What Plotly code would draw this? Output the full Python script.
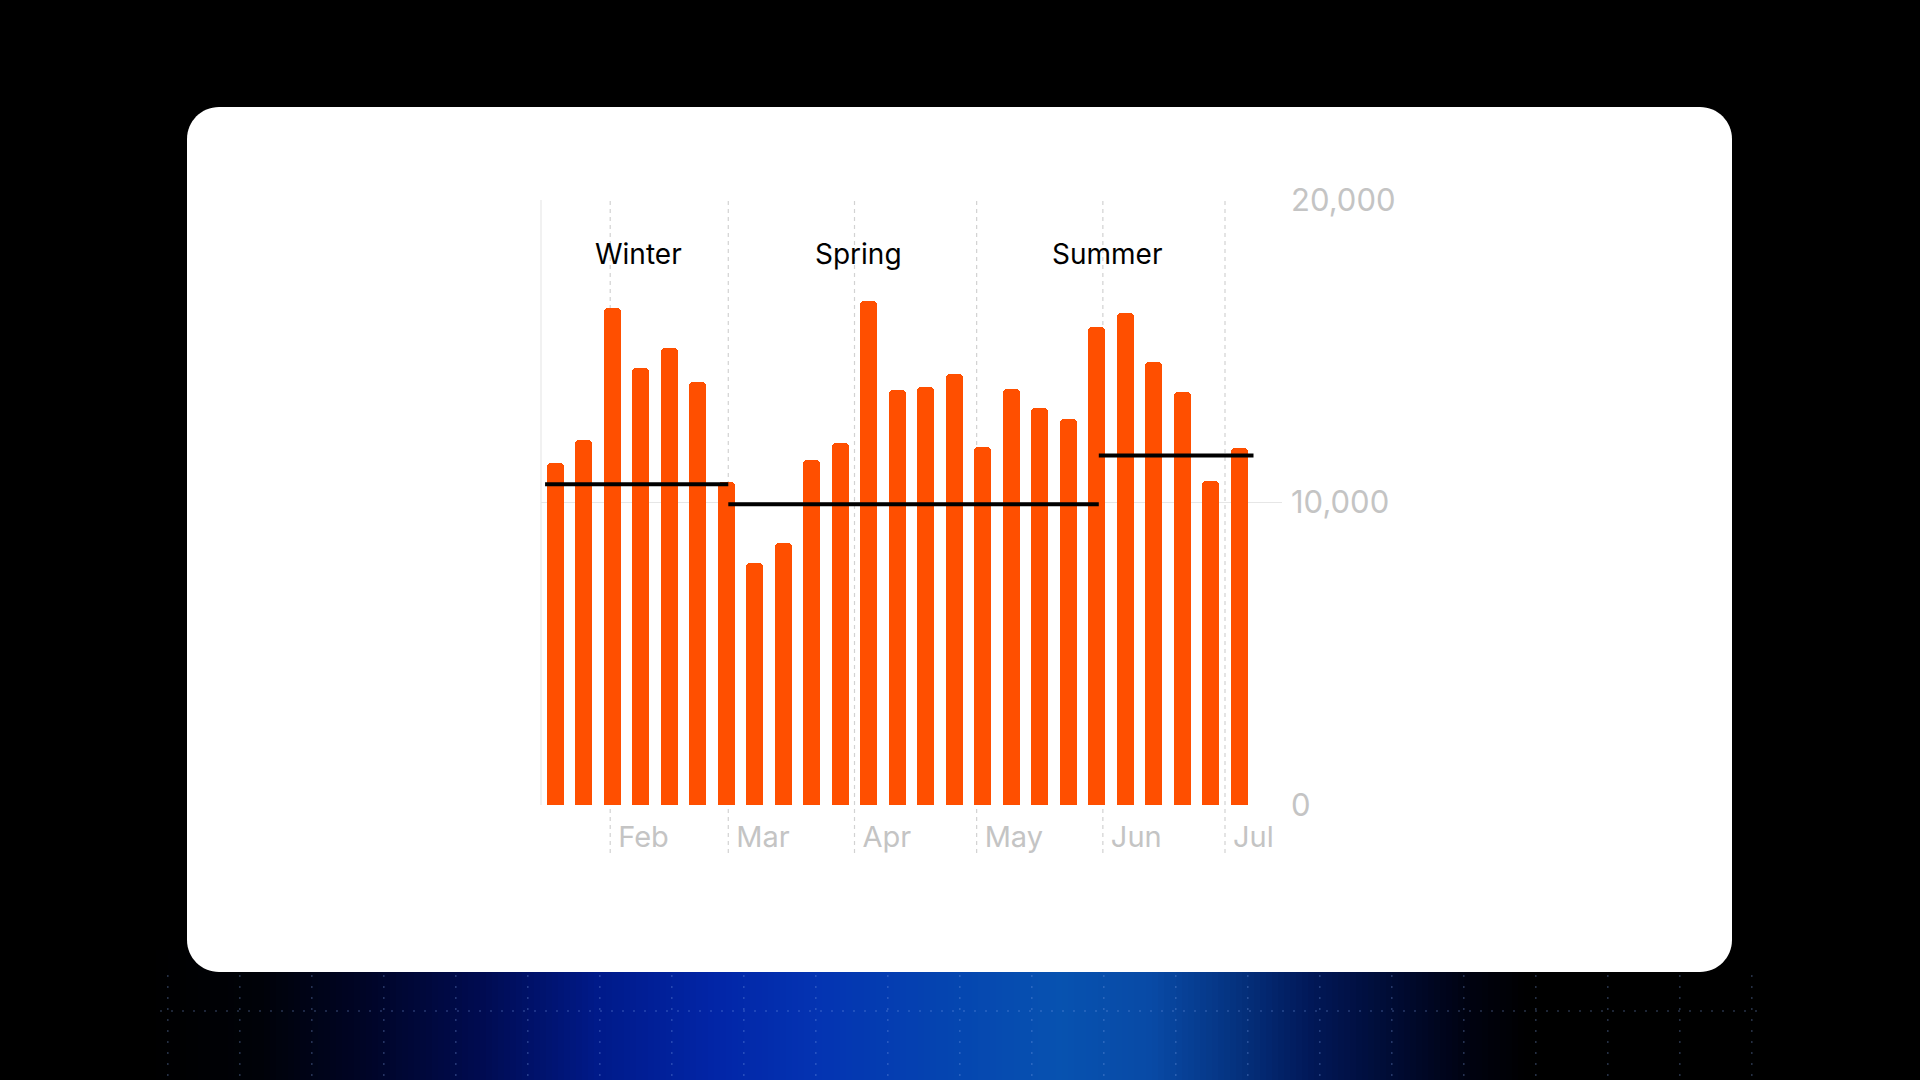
import pandas as pd
import plotly.graph_objects as go

# ---------------- data ----------------
week_starts = pd.date_range("2024-01-15", periods=25, freq="7D")
weekly_values = [11300, 12050, 16440, 14440, 15110, 13970, 10670, 7990, 8670, 11390,
                 11970, 16670, 13720, 13820, 14260, 11850, 13740, 13120, 12760, 15800,
                 16260, 14640, 13640, 10720, 11810]

season_names = ["Winter", "Spring", "Summer"]
season_starts = ["2024-01-16", "2024-03-01", "2024-05-31"]
season_ends = ["2024-03-01", "2024-05-31", "2024-07-08"]
season_averages = [10600, 9940, 11550]
season_label_x = ["2024-02-08", "2024-04-02", "2024-06-02"]
season_label_y = 18200

month_ticks = ["2024-02-01", "2024-03-01", "2024-04-01", "2024-05-01", "2024-06-01", "2024-07-01"]
month_labels = ["Feb", "Mar", "Apr", "May", "Jun", "Jul"]
y_ticks = [0, 10000, 20000]

# ---------------- geometry helpers ----------------
W, H = 1920, 1080
ML, MR, MT, MB = 541, 638, 200, 275
PW = W - ML - MR
PH = H - MT - MB


def px(x):
    return (x - ML) / PW


def py(y):
    return (H - MB - y) / PH


def rounded_rect_path(x0, y0, x1, y1, r):
    k = 0.5523 * r
    pts = []
    pts.append(f"M {px(x0 + r)},{py(y0)}")
    pts.append(f"L {px(x1 - r)},{py(y0)}")
    pts.append(f"C {px(x1 - r + k)},{py(y0)} {px(x1)},{py(y0 + r - k)} {px(x1)},{py(y0 + r)}")
    pts.append(f"L {px(x1)},{py(y1 - r)}")
    pts.append(f"C {px(x1)},{py(y1 - r + k)} {px(x1 - r + k)},{py(y1)} {px(x1 - r)},{py(y1)}")
    pts.append(f"L {px(x0 + r)},{py(y1)}")
    pts.append(f"C {px(x0 + r - k)},{py(y1)} {px(x0)},{py(y1 - r + k)} {px(x0)},{py(y1 - r)}")
    pts.append(f"L {px(x0)},{py(y0 + r)}")
    pts.append(f"C {px(x0)},{py(y0 + r - k)} {px(x0 + r - k)},{py(y0)} {px(x0 + r)},{py(y0)}")
    pts.append("Z")
    return " ".join(pts)


def hex_to_rgb(h):
    h = h.lstrip("#")
    return tuple(int(h[i:i + 2], 16) for i in (0, 2, 4))


grad_stops = [(150, "#000000"), (260, "#000208"), (370, "#000528"), (480, "#000b50"),
              (600, "#001a8a"), (720, "#0226a8"), (820, "#0434b2"), (950, "#0545b0"),
              (1060, "#0752b0"), (1150, "#084aa6"), (1230, "#053482"), (1310, "#011858"),
              (1400, "#000a30"), (1470, "#000210"), (1530, "#000000")]


def grad_color(x):
    for (xa, ca), (xb, cb) in zip(grad_stops[:-1], grad_stops[1:]):
        if xa <= x <= xb:
            t = (x - xa) / (xb - xa)
            a, b = hex_to_rgb(ca), hex_to_rgb(cb)
            c = [round(a[i] + (b[i] - a[i]) * t) for i in range(3)]
            return f"rgb({c[0]},{c[1]},{c[2]})"
    return "rgb(0,0,0)"


shapes = []
# background gradient strip under the card
step = 6
x = 150
while x < 1530:
    shapes.append(dict(type="rect", xref="paper", yref="paper", layer="below",
                       x0=px(x), x1=px(x + step + 0.5), y0=py(1080), y1=py(950),
                       fillcolor=grad_color(x + step / 2), line=dict(width=0)))
    x += step

# decorative dotted grid
gx = 167.8
while gx < 1760:
    shapes.append(dict(type="line", xref="paper", yref="paper", layer="below",
                       x0=px(gx), x1=px(gx), y0=py(975), y1=py(1080),
                       line=dict(color="rgba(130,165,235,0.3)", width=1.5, dash="2px,9px")))
    gx += 72
shapes.append(dict(type="line", xref="paper", yref="paper", layer="below",
                   x0=px(160), x1=px(1760), y0=py(1011), y1=py(1011),
                   line=dict(color="rgba(130,165,235,0.3)", width=1.5, dash="2px,9px")))

# white card
shapes.append(dict(type="path", xref="paper", yref="paper", layer="below",
                   path=rounded_rect_path(187, 107, 1732, 972, 32),
                   fillcolor="white", line=dict(width=0)))

# left frame line of plot area
shapes.append(dict(type="line", xref="paper", yref="paper", layer="below",
                   x0=0, x1=0, y0=0, y1=1, line=dict(color="#e8e8e8", width=1.2)))

# dashed month grid lines (extend below the axis)
for d in month_ticks:
    shapes.append(dict(type="line", xref="x", yref="paper", layer="below",
                       x0=d, x1=d, y0=py(853), y1=1,
                       line=dict(color="#d2d2d2", width=1.2, dash="4px,4px")))

fig = go.Figure()

bar_centers = week_starts + pd.Timedelta(hours=84)
fig.add_trace(go.Bar(
    x=bar_centers, y=weekly_values,
    width=4.18 * 86400000,
    marker=dict(color="#FF4F00", line=dict(width=0), cornerradius=4),
    showlegend=False,
))

for s0, s1, v in zip(season_starts, season_ends, season_averages):
    fig.add_trace(go.Scatter(
        x=[s0, s1], y=[v, v], mode="lines",
        line=dict(color="black", width=4), showlegend=False,
    ))

annotations = []
for name, xd in zip(season_names, season_label_x):
    annotations.append(dict(x=xd, y=season_label_y, xref="x", yref="y", text=name,
                            showarrow=False, xanchor="center", yanchor="middle",
                            font=dict(family="Inter", size=28, color="black")))

fig.update_layout(
    width=W, height=H,
    margin=dict(l=ML, r=MR, t=MT, b=MB, pad=0),
    paper_bgcolor="black",
    plot_bgcolor="rgba(0,0,0,0)",
    font=dict(family="Inter"),
    shapes=shapes,
    annotations=annotations,
    bargap=0,
    showlegend=False,
    xaxis=dict(
        type="date",
        range=["2024-01-15", "2024-07-15"],
        tickvals=month_ticks,
        ticktext=month_labels,
        showgrid=False, zeroline=False, showline=False,
        ticks="",
        ticklabelposition="outside right",
        ticklabelshift=8,
        ticklabelstandoff=12,
        tickfont=dict(family="Inter", size=29, color="#c4c4c4"),
    ),
    yaxis=dict(
        side="right",
        range=[0, 20000],
        tickvals=y_ticks,
        tickformat=",",
        showgrid=True, gridcolor="#e6e6e6", gridwidth=1.2,
        zeroline=False, showline=False,
        ticks="",
        ticklabelstandoff=8,
        tickfont=dict(family="Inter", size=31, color="#c4c4c4"),
    ),
)

fig.write_html("out.html")
